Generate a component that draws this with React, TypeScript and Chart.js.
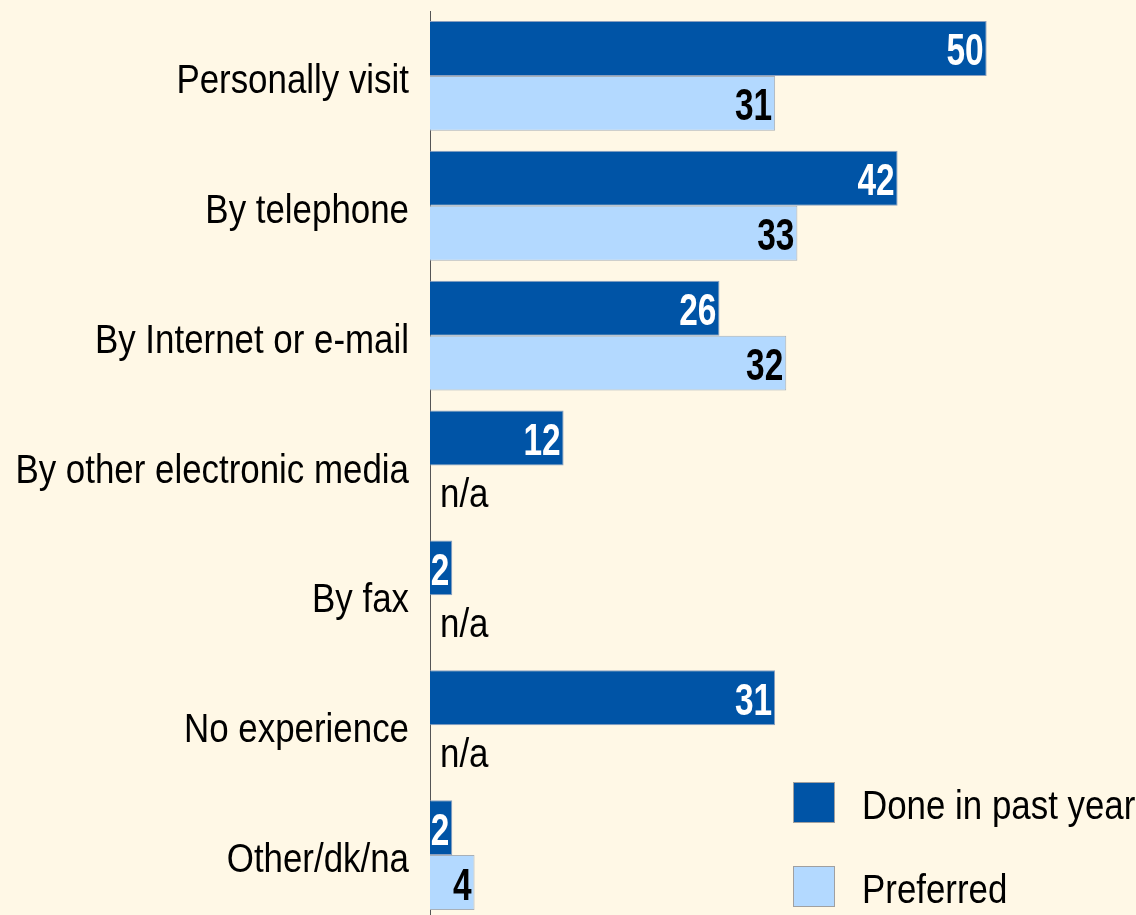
import React, { useEffect, useRef } from "react";
import { Chart, registerables } from "chart.js";

Chart.register(...registerables);

const categories = [
  "Personally visit",
  "By telephone",
  "By Internet or e-mail",
  "By other electronic media",
  "By fax",
  "No experience",
  "Other/dk/na",
];
const doneInPastYear = [50, 42, 26, 12, 2, 31, 2];
const preferred: (number | null)[] = [31, 33, 32, null, null, null, 4];
const seriesNames = ["Done in past year", "Preferred"];
const missingLabel = "n/a";

const BG = "#FFF8E6";
const DARK = "#0054A6";
const LIGHT = "#B3D9FF";
const FONT = "'Liberation Sans', Arial, sans-serif";
const REG_SIZE = 40;
const REG_SX = 0.872;
const BOLD_SIZE = 44;
const BOLD_SX = 0.76;

function drawText(ctx: CanvasRenderingContext2D, text: string, x: number, y: number, font: string, sx: number, align: CanvasTextAlign, color: string) {
  ctx.save();
  ctx.font = font;
  ctx.fillStyle = color;
  ctx.textAlign = align;
  ctx.textBaseline = "alphabetic";
  ctx.translate(x, y);
  ctx.scale(sx, 1);
  ctx.fillText(text, 0, 0);
  ctx.restore();
}

const bgPlugin = {
  id: "bg",
  beforeDraw(chart: any) {
    const { ctx, width, height } = chart;
    ctx.save();
    ctx.fillStyle = BG;
    ctx.fillRect(0, 0, width, height);
    ctx.restore();
  },
};

const catLabelPlugin = {
  id: "catLabels",
  afterDraw(chart: any) {
    const { ctx } = chart;
    const y = chart.scales.y;
    const x0 = chart.chartArea.left;
    categories.forEach((c, i) => {
      const yc = y.getPixelForValue(i);
      drawText(ctx, c, x0 - 21, yc + 17, `${REG_SIZE}px ${FONT}`, REG_SX, "right", "#000");
    });
  },
};

const labelPlugin = {
  id: "valueLabels",
  afterDatasetsDraw(chart: any) {
    const { ctx } = chart;
    chart.data.datasets.forEach((ds: any, di: number) => {
      const meta = chart.getDatasetMeta(di);
      meta.data.forEach((bar: any, i: number) => {
        const v = ds.data[i];
        if (v === null || v === undefined) {
          const x0 = chart.scales.x.getPixelForValue(0);
          const ref = chart.getDatasetMeta(0).data[i];
          const yc = ref.y + ref.height;
          drawText(ctx, missingLabel, x0 + 10, yc + 14, `${REG_SIZE}px ${FONT}`, REG_SX, "left", "#000");
          return;
        }
        drawText(ctx, String(v), bar.x - 3, bar.y + 17, `bold ${BOLD_SIZE}px ${FONT}`, BOLD_SX, "right", di === 0 ? "#FFFFFF" : "#000000");
      });
    });
  },
};

const legendPlugin = {
  id: "customLegend",
  afterDraw(chart: any) {
    const { ctx } = chart;
    const colors = [DARK, LIGHT];
    seriesNames.forEach((name, i) => {
      const bx = 793;
      const by = 782 + i * 84;
      ctx.save();
      ctx.fillStyle = colors[i];
      ctx.fillRect(bx, by, 42, 41);
      ctx.strokeStyle = "#a0a0a0";
      ctx.lineWidth = 1;
      ctx.strokeRect(bx + 0.5, by + 0.5, 41, 40);
      ctx.restore();
      drawText(ctx, name, bx + 69, by + 37, `${REG_SIZE}px ${FONT}`, REG_SX, "left", "#000");
    });
  },
};

export default function App() {
  const ref = useRef<HTMLCanvasElement | null>(null);
  useEffect(() => {
    if (!ref.current) return;
    const chart = new Chart(ref.current, {
      type: "bar",
      data: {
        labels: categories,
        datasets: [
          {
            label: seriesNames[0],
            data: doneInPastYear,
            backgroundColor: DARK,
            borderColor: "#8a9fbf",
            borderWidth: 1,
            categoryPercentage: 0.846,
            barPercentage: 1,
          },
          {
            label: seriesNames[1],
            data: preferred,
            backgroundColor: LIGHT,
            borderColor: "#a8b0b8",
            borderWidth: 1,
            categoryPercentage: 0.846,
            barPercentage: 1,
          },
        ],
      },
      options: {
        indexAxis: "y",
        animation: false,
        responsive: false,
        layout: { padding: { top: 11, right: 38, bottom: 1, left: 0 } },
        plugins: { legend: { display: false }, tooltip: { enabled: false } },
        scales: {
          x: { display: false, min: 0, max: 60 },
          y: {
            grid: { display: false, drawTicks: false },
            border: { display: true, color: "#555", width: 1 },
            ticks: { display: false },
            afterFit(s: any) {
              s.width = 430;
            },
          },
        },
      },
      plugins: [bgPlugin, labelPlugin, catLabelPlugin, legendPlugin],
    });
    return () => chart.destroy();
  }, []);
  return (
    <div style={{ position: "fixed", left: 0, top: 0, width: 1136, height: 915, overflow: "hidden", background: BG }}>
      <canvas ref={ref} width={1136} height={921} style={{ display: "block" }} />
    </div>
  );
}
